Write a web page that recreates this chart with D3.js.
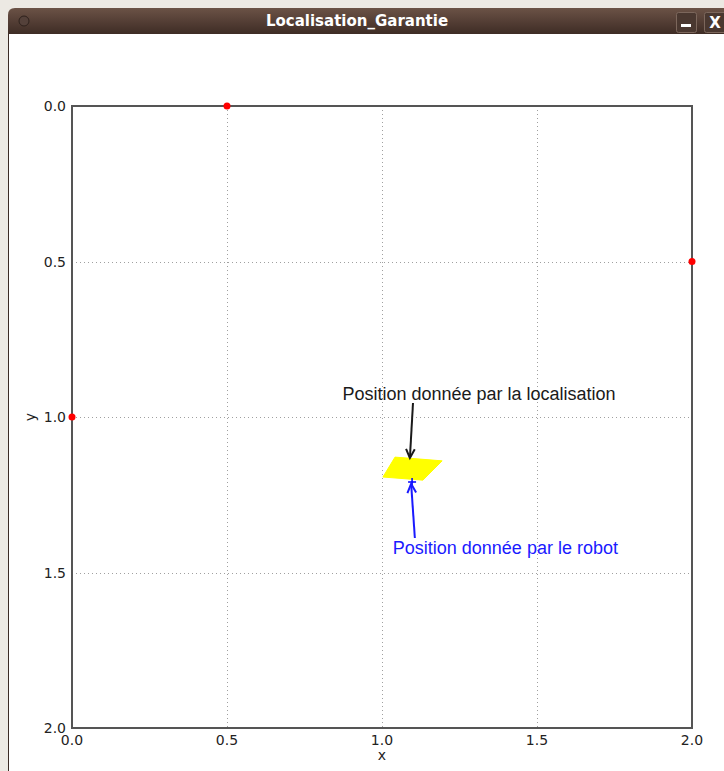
<!DOCTYPE html>
<html>
<head>
<meta charset="utf-8">
<script src="https://cdn.jsdelivr.net/npm/d3@7"></script>
<style>
  body { margin: 0; background: #ece9e3; }
  svg { display: block; }
</style>
</head>
<body>
<div id="app"></div>
<script>
// window title
const windowTitle = "Localisation_Garantie";

// reference points (red)
const anchorX = [0.5, 2.0, 0.0];
const anchorY = [0.0, 0.5, 1.0];

// localisation area (yellow parallelogram)
const zoneX = [1.042, 1.194, 1.132, 1.003];
const zoneY = [1.129, 1.141, 1.203, 1.193];

// robot position (blue +)
const robotX = 1.097;
const robotY = 1.209;

// annotations: text, text position, arrow start, arrow tip
const notes = [
  {text: "Position donnée par la localisation", tx: 1.313, ty: 0.945, sx: 1.1, sy: 0.955, ex: 1.09, ey: 1.132, color: "#1a1a1a"},
  {text: "Position donnée par le robot", tx: 1.398, ty: 1.44, sx: 1.106, sy: 1.389, ex: 1.094, ey: 1.215, color: "#1a1aff"}
];

const xTicks = [0, 0.5, 1.0, 1.5, 2.0];
const yTicks = [0, 0.5, 1.0, 1.5, 2.0];

const W = 724, H = 771;
const x = d3.scaleLinear().domain([0, 2]).range([72, 692]);
const y = d3.scaleLinear().domain([0, 2]).range([106, 728]);   // inverted y

const svg = d3.select("#app").append("svg")
    .attr("width", W)
    .attr("height", H)
    .attr("viewBox", [0, 0, W, H]);

// window frame
const grad = svg.append("defs").append("linearGradient")
    .attr("id", "bar").attr("x1", 0).attr("y1", 0).attr("x2", 0).attr("y2", 1);
grad.append("stop").attr("offset", "0%").attr("stop-color", "#6b5246");
grad.append("stop").attr("offset", "100%").attr("stop-color", "#3e2c25");

svg.append("rect").attr("x", 0).attr("y", 0).attr("width", W).attr("height", H).attr("fill", "#ece9e3");
svg.append("rect").attr("x", 8).attr("y", 34).attr("width", W - 8).attr("height", H - 34).attr("fill", "#ffffff");
svg.append("path")
    .attr("d", `M8,34 V15 Q8,8 15,8 H${W} V34 Z`)
    .attr("fill", "url(#bar)");
svg.append("line").attr("x1", 8.5).attr("x2", 8.5).attr("y1", 34).attr("y2", H)
    .attr("stroke", "#3a2a24").attr("stroke-width", 1);
svg.append("circle").attr("cx", 24).attr("cy", 21).attr("r", 5)
    .attr("fill", "#54413a").attr("stroke", "#2e211c").attr("stroke-width", 1);
svg.append("text")
    .attr("x", 357).attr("y", 26)
    .attr("text-anchor", "middle")
    .attr("font-family", "DejaVu Sans")
    .attr("font-weight", "bold")
    .attr("font-size", 15)
    .attr("fill", "#ffffff")
    .text(windowTitle);

// title bar buttons
const btns = svg.append("g");
btns.append("rect").attr("x", 676.5).attr("y", 12.5).attr("width", 20).attr("height", 20).attr("rx", 2)
    .attr("fill", "#4a3830").attr("stroke", "#7c675c");
btns.append("rect").attr("x", 681).attr("y", 24).attr("width", 10).attr("height", 3).attr("fill", "#ffffff");
btns.append("rect").attr("x", 704.5).attr("y", 12.5).attr("width", 22).attr("height", 20).attr("rx", 2)
    .attr("fill", "#4a3830").attr("stroke", "#7c675c");
btns.append("text").attr("x", 715).attr("y", 28).attr("text-anchor", "middle")
    .attr("font-family", "DejaVu Sans").attr("font-weight", "bold").attr("font-size", 15)
    .attr("fill", "#ffffff").text("X");

// grid
const grid = svg.append("g")
    .attr("stroke", "#a0a0a0")
    .attr("stroke-width", 1)
    .attr("stroke-dasharray", "1,3");
grid.selectAll("line.gx").data(xTicks.slice(1, -1)).join("line")
    .attr("x1", d => Math.round(x(d)) + 0.5).attr("x2", d => Math.round(x(d)) + 0.5)
    .attr("y1", y(0)).attr("y2", y(2));
grid.selectAll("line.gy").data(yTicks.slice(1, -1)).join("line")
    .attr("y1", d => Math.round(y(d)) + 0.5).attr("y2", d => Math.round(y(d)) + 0.5)
    .attr("x1", x(0)).attr("x2", x(2));

// frame
svg.append("rect")
    .attr("x", x(0)).attr("y", y(0))
    .attr("width", x(2) - x(0)).attr("height", y(2) - y(0))
    .attr("fill", "none").attr("stroke", "#555555").attr("stroke-width", 2);

// tick labels
svg.append("g").selectAll("text").data(yTicks).join("text")
    .attr("x", x(0) - 6).attr("y", d => y(d) + 5)
    .attr("text-anchor", "end")
    .attr("font-family", "DejaVu Sans").attr("font-size", 14).attr("fill", "#222222")
    .text(d => d.toFixed(1));
svg.append("g").selectAll("text").data(xTicks).join("text")
    .attr("x", d => x(d)).attr("y", y(2) + 17)
    .attr("text-anchor", "middle")
    .attr("font-family", "DejaVu Sans").attr("font-size", 14).attr("fill", "#222222")
    .text(d => d.toFixed(1));

// axis labels
svg.append("text").attr("x", (x(0) + x(2)) / 2).attr("y", 760)
    .attr("text-anchor", "middle")
    .attr("font-family", "DejaVu Sans").attr("font-size", 14).attr("fill", "#222222")
    .text("x");
svg.append("text")
    .attr("transform", `translate(35,${(y(0) + y(2)) / 2}) rotate(-90)`)
    .attr("text-anchor", "middle")
    .attr("font-family", "DejaVu Sans").attr("font-size", 14).attr("fill", "#222222")
    .text("y");

// localisation zone
svg.append("polygon")
    .attr("points", zoneX.map((d, i) => [x(d), y(zoneY[i])].join(",")).join(" "))
    .attr("fill", "#ffff00")
    .attr("stroke", "#ffff00")
    .attr("stroke-width", 1);

// robot marker
svg.append("path")
    .attr("d", `M${x(robotX) - 4},${y(robotY)} h8 M${x(robotX)},${y(robotY) - 4} v8`)
    .attr("stroke", "#0000ff").attr("stroke-width", 1.5);

// reference points
svg.append("g").selectAll("circle").data(anchorX).join("circle")
    .attr("cx", d => x(d)).attr("cy", (d, i) => y(anchorY[i]))
    .attr("r", 3.5)
    .attr("fill", "#ff0000");

// annotations
const ann = svg.append("g");
notes.forEach(n => {
  const x1 = x(n.sx), y1 = y(n.sy), x2 = x(n.ex), y2 = y(n.ey);
  const a = Math.atan2(y2 - y1, x2 - x1);
  const L = 10, s = 0.45;
  ann.append("line")
      .attr("x1", x1).attr("y1", y1).attr("x2", x2).attr("y2", y2)
      .attr("stroke", n.color).attr("stroke-width", 2);
  ann.append("path")
      .attr("d", `M${x2 - L * Math.cos(a - s)},${y2 - L * Math.sin(a - s)} L${x2},${y2} L${x2 - L * Math.cos(a + s)},${y2 - L * Math.sin(a + s)}`)
      .attr("fill", "none").attr("stroke", n.color).attr("stroke-width", 2);
  ann.append("text")
      .attr("x", x(n.tx)).attr("y", y(n.ty))
      .attr("text-anchor", "middle")
      .attr("font-family", "Liberation Sans, Arial, sans-serif")
      .attr("font-size", 18)
      .attr("fill", n.color)
      .text(n.text);
});
</script>
</body>
</html>
